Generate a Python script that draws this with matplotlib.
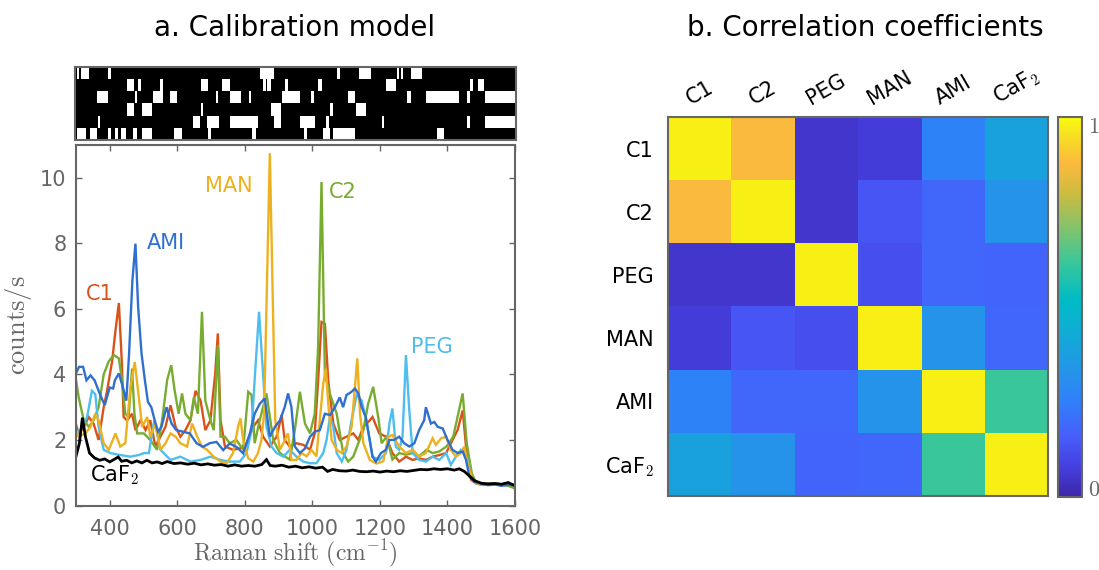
import numpy as np
import matplotlib
matplotlib.use("Agg")
import matplotlib.pyplot as plt
from matplotlib.colors import LinearSegmentedColormap

plt.rcParams['font.family'] = ['DejaVu Sans']
plt.rcParams['mathtext.fontset'] = 'cm'

# ---------------- data ----------------
c1 = [(299, 2.5), (308, 2.2), (323, 2.4), (338, 2.7), (352, 2.5), (367, 2.0), (382, 3.0), (392, 3.5),
      (407, 4.4), (417, 5.35), (427, 6.18), (436, 4.3), (441, 2.7), (451, 2.6), (466, 2.8), (476, 2.3),
      (491, 2.6), (506, 2.3), (520, 2.6), (535, 1.8), (550, 2.1), (565, 2.4), (580, 3.06), (595, 2.4),
      (609, 2.1), (624, 2.3), (639, 2.6), (654, 3.5), (669, 3.2), (683, 2.3), (698, 2.6), (712, 4.0),
      (720, 5.25), (728, 2.6), (741, 1.8), (765, 1.7), (785, 1.74), (805, 1.9), (825, 2.4), (839, 2.6),
      (854, 2.1), (874, 1.8), (894, 2.1), (909, 2.76), (918, 2.0), (933, 1.8), (953, 1.9), (973, 1.85),
      (993, 1.7), (1007, 2.2), (1017, 3.8), (1027, 5.6), (1037, 5.55), (1047, 3.8), (1062, 2.5),
      (1081, 2.0), (1101, 2.1), (1121, 2.2), (1136, 2.0), (1151, 2.4), (1170, 2.6), (1178, 2.7),
      (1198, 2.2), (1218, 2.1), (1237, 1.6), (1257, 1.34), (1277, 1.49), (1297, 1.39), (1316, 1.44),
      (1336, 1.39), (1356, 1.49), (1376, 1.54), (1396, 1.6), (1415, 2.0), (1430, 2.3), (1445, 2.9),
      (1455, 1.8), (1470, 0.78), (1484, 0.68), (1500, 0.65), (1520, 0.66), (1540, 0.64), (1560, 0.65),
      (1580, 0.66), (1600, 0.62)]

c2 = [(300, 3.83), (308, 3.3), (323, 2.6), (338, 2.4), (352, 2.6), (367, 3.0), (382, 4.0), (397, 4.4),
      (412, 4.59), (427, 4.49), (436, 3.83), (446, 2.8), (456, 2.7), (466, 4.18), (473, 2.8), (481, 2.2),
      (501, 2.2), (520, 2.0), (540, 1.7), (555, 2.6), (570, 3.83), (582, 4.28), (592, 3.52), (604, 2.8),
      (614, 3.42), (624, 2.8), (639, 2.6), (649, 3.3), (661, 2.8), (673, 5.91), (683, 3.2), (698, 2.6),
      (708, 2.3), (720, 4.9), (728, 2.1), (741, 2.1), (755, 1.9), (775, 2.0), (795, 1.7), (810, 3.47),
      (820, 3.37), (829, 1.9), (844, 2.6), (864, 3.42), (884, 2.0), (904, 1.6), (918, 1.5), (933, 1.4),
      (948, 2.3), (963, 3.47), (978, 2.5), (993, 2.2), (1007, 2.8), (1017, 4.84), (1027, 9.87),
      (1037, 4.0), (1052, 3.4), (1072, 2.8), (1091, 1.6), (1106, 1.34), (1121, 1.49), (1136, 1.9),
      (1151, 2.3), (1165, 3.1), (1180, 3.62), (1195, 2.7), (1205, 1.9), (1220, 2.1), (1237, 1.4),
      (1257, 1.6), (1277, 1.55), (1297, 1.6), (1316, 1.5), (1338, 1.7), (1356, 1.6), (1376, 1.65),
      (1397, 1.8), (1417, 2.1), (1432, 2.8), (1445, 3.42), (1457, 1.9), (1472, 0.98), (1486, 0.67),
      (1500, 0.64), (1520, 0.66), (1540, 0.68), (1560, 0.64), (1580, 0.6), (1600, 0.52)]

peg = [(300, 2.2), (313, 2.3), (333, 2.7), (347, 3.5), (357, 3.4), (367, 2.4), (382, 1.7), (402, 1.6),
       (431, 1.54), (461, 1.49), (486, 1.54), (501, 1.6), (516, 1.6), (525, 2.2), (532, 2.6), (550, 1.7),
       (580, 1.39), (609, 1.49), (639, 1.34), (669, 1.39), (698, 1.49), (728, 1.39), (755, 1.34),
       (785, 1.34), (805, 1.6), (820, 2.3), (829, 3.83), (842, 5.91), (852, 4.33), (864, 2.4), (879, 1.8),
       (894, 1.6), (914, 1.49), (933, 1.7), (953, 1.49), (973, 1.34), (993, 1.29), (1012, 1.29),
       (1032, 1.6), (1042, 2.0), (1052, 2.7), (1062, 2.4), (1072, 1.6), (1087, 1.34), (1101, 1.7),
       (1116, 2.6), (1131, 3.37), (1146, 3.2), (1160, 2.6), (1178, 1.49), (1198, 1.39), (1218, 1.6),
       (1228, 2.5), (1237, 2.96), (1247, 1.8), (1257, 1.7), (1267, 2.1), (1277, 4.59), (1287, 2.9),
       (1297, 1.6), (1316, 1.39), (1336, 1.34), (1356, 1.49), (1376, 1.39), (1396, 1.6), (1410, 1.24),
       (1425, 1.49), (1440, 1.7), (1450, 1.6), (1460, 1.39), (1470, 0.88), (1484, 0.68), (1500, 0.64),
       (1520, 0.65), (1540, 0.66), (1560, 0.63), (1580, 0.64), (1600, 0.62)]

man = [(300, 2.3), (308, 2.1), (328, 2.2), (343, 2.4), (357, 2.8), (367, 2.6), (382, 1.9), (397, 1.7),
       (417, 2.2), (431, 1.8), (446, 1.9), (461, 3.6), (474, 4.38), (486, 3.3), (496, 2.4), (511, 2.7),
       (520, 2.1), (535, 2.5), (550, 1.7), (565, 1.9), (580, 2.2), (595, 2.1), (609, 1.9), (629, 1.8),
       (644, 2.5), (659, 2.1), (673, 1.8), (688, 1.7), (708, 1.49), (728, 1.34), (746, 1.29), (765, 1.6),
       (780, 2.4), (787, 2.66), (795, 2.0), (810, 1.44), (825, 1.34), (839, 1.6), (849, 2.0), (857, 2.8),
       (874, 10.75), (890, 2.6), (904, 1.7), (914, 1.9), (928, 2.2), (938, 1.39), (953, 1.39),
       (968, 1.6), (983, 1.5), (997, 1.7), (1012, 1.5), (1022, 2.6), (1032, 3.72), (1040, 4.18),
       (1047, 3.1), (1057, 2.0), (1072, 1.7), (1087, 1.6), (1101, 1.8), (1116, 2.4), (1126, 3.62),
       (1133, 4.49), (1141, 2.8), (1151, 1.9), (1170, 1.39), (1190, 1.28), (1210, 1.35), (1225, 2.1),
       (1237, 2.15), (1257, 1.8), (1277, 1.6), (1297, 1.7), (1316, 1.49), (1336, 1.6), (1356, 2.05),
       (1366, 1.85), (1381, 2.05), (1396, 2.1), (1410, 1.7), (1425, 1.49), (1440, 1.6), (1450, 1.8),
       (1460, 1.29), (1474, 0.78), (1490, 0.66), (1510, 0.64), (1530, 0.66), (1550, 0.65), (1570, 0.64),
       (1600, 0.62)]

ami = [(300, 4.03), (309, 4.23), (321, 4.23), (331, 3.82), (343, 3.97), (355, 3.82), (370, 3.42),
       (385, 3.06), (400, 3.6), (410, 3.57), (415, 3.82), (427, 4.03), (439, 3.6), (449, 3.2), (457, 4.6),
       (467, 6.87), (476, 7.99), (484, 6.06), (494, 4.64), (504, 3.82), (513, 3.16), (523, 3.0),
       (533, 2.6), (543, 2.25), (553, 2.4), (568, 3.0), (583, 2.5), (597, 2.3), (617, 2.25), (637, 2.2),
       (657, 1.9), (676, 1.79), (696, 1.9), (716, 1.94), (736, 1.69), (755, 1.89), (775, 1.79),
       (795, 1.59), (815, 2.2), (829, 2.8), (844, 3.1), (859, 3.27), (874, 2.1), (889, 2.4), (904, 2.6),
       (918, 3.0), (928, 3.42), (938, 3.0), (948, 1.8), (963, 1.6), (978, 1.74), (993, 2.1), (1007, 2.25),
       (1022, 2.3), (1037, 2.8), (1052, 2.76), (1067, 3.0), (1081, 3.3), (1091, 3.0), (1101, 3.37),
       (1116, 3.47), (1126, 3.57), (1136, 3.42), (1146, 3.0), (1158, 2.7), (1168, 2.1), (1178, 1.49),
       (1188, 1.34), (1203, 1.6), (1218, 1.7), (1228, 2.0), (1242, 2.0), (1257, 2.1), (1272, 1.9),
       (1287, 1.8), (1302, 1.9), (1316, 2.3), (1331, 2.6), (1336, 3.0), (1351, 2.5), (1361, 2.55),
       (1371, 2.4), (1386, 2.35), (1400, 2.0), (1415, 1.7), (1430, 1.6), (1445, 1.65), (1455, 1.39),
       (1465, 0.88), (1479, 0.73), (1500, 0.66), (1520, 0.62), (1540, 0.64), (1560, 0.6), (1580, 0.63),
       (1600, 0.62)]

caf2 = [(300, 1.5), (310, 1.9), (319, 2.68), (328, 2.1), (340, 1.6), (355, 1.45), (370, 1.38), (385, 1.42),
        (400, 1.33), (415, 1.42), (425, 1.48), (435, 1.35), (450, 1.38), (465, 1.3), (480, 1.36),
        (495, 1.3), (510, 1.38), (525, 1.3), (540, 1.33), (555, 1.28), (570, 1.34), (590, 1.28),
        (610, 1.3), (630, 1.26), (650, 1.29), (670, 1.24), (690, 1.27), (710, 1.23), (730, 1.25),
        (750, 1.2), (770, 1.24), (790, 1.2), (810, 1.22), (830, 1.2), (850, 1.25), (864, 1.4), (875, 1.22),
        (890, 1.2), (910, 1.23), (930, 1.17), (950, 1.2), (970, 1.15), (990, 1.18), (1010, 1.14),
        (1030, 1.17), (1045, 1.04), (1060, 1.1), (1080, 1.06), (1100, 1.05), (1120, 1.08), (1140, 1.04),
        (1160, 1.03), (1180, 1.05), (1200, 1.02), (1220, 1.05), (1240, 1.03), (1260, 1.06), (1280, 1.04),
        (1300, 1.07), (1320, 1.1), (1340, 1.09), (1360, 1.12), (1380, 1.1), (1400, 1.12), (1420, 1.08),
        (1435, 1.12), (1450, 1.04), (1465, 0.9), (1480, 0.76), (1500, 0.68), (1520, 0.66), (1540, 0.67),
        (1560, 0.65), (1580, 0.7), (1600, 0.6)]

# binary calibration design (white intervals, cm^-1), rows top to bottom
mask_row1 = [(306, 312), (318, 341), (397, 407), (844, 888), (1073, 1081), (1138, 1172),
             (1248, 1256), (1260, 1268), (1290, 1322)]
mask_row2 = [(453, 473), (486, 496), (552, 560), (671, 691), (734, 756), (854, 864), (867, 877),
             (919, 928), (1017, 1027), (1216, 1245), (1465, 1474), (1487, 1507)]
mask_row3 = [(365, 397), (476, 484), (530, 560), (581, 601), (715, 723), (758, 790), (812, 820),
             (911, 963), (996, 1006), (1106, 1125), (1280, 1290), (1335, 1432), (1455, 1463), (1509, 1597)]
mask_row4 = [(453, 473), (497, 528), (671, 677), (877, 908), (1052, 1060), (1128, 1158)]
mask_row5 = [(368, 375), (648, 668), (690, 724), (756, 840), (887, 908), (963, 1007), (1040, 1050),
             (1204, 1212), (1455, 1463), (1509, 1597)]
mask_row6 = [(306, 333), (343, 365), (397, 407), (417, 427), (437, 449), (471, 483), (497, 528),
             (592, 615), (692, 702), (823, 833), (975, 985), (1030, 1052), (1062, 1125), (1368, 1388)]

components = ['C1', 'C2', 'PEG', 'MAN', 'AMI', 'CaF₂']
corr = [[1.00, 0.89, 0.03, 0.05, 0.25, 0.38],
        [0.89, 1.00, 0.03, 0.12, 0.17, 0.32],
        [0.03, 0.03, 1.00, 0.10, 0.17, 0.16],
        [0.05, 0.12, 0.10, 1.00, 0.32, 0.17],
        [0.25, 0.17, 0.17, 0.32, 1.00, 0.62],
        [0.38, 0.32, 0.16, 0.17, 0.62, 1.00]]

# ---------------- styling ----------------
GRAY = '#666666'
col_c1 = '#D95319'
col_c2 = '#77AC30'
col_peg = '#4DBEEE'
col_man = '#EDB120'
col_ami = '#2F6FD0'

parula = LinearSegmentedColormap.from_list('parula', [
    (0.00, (0.243, 0.150, 0.660)),
    (0.08, (0.272, 0.250, 0.880)),
    (0.16, (0.280, 0.370, 0.985)),
    (0.25, (0.190, 0.500, 0.980)),
    (0.35, (0.130, 0.600, 0.900)),
    (0.45, (0.050, 0.690, 0.820)),
    (0.52, (0.000, 0.735, 0.775)),
    (0.62, (0.230, 0.780, 0.600)),
    (0.72, (0.550, 0.760, 0.400)),
    (0.80, (0.800, 0.735, 0.250)),
    (0.88, (0.990, 0.730, 0.240)),
    (0.94, (0.970, 0.850, 0.150)),
    (1.00, (0.976, 0.983, 0.054))])

fig = plt.figure(figsize=(10.99, 5.70), dpi=100)

# ---- binary pattern axes ----
axb = fig.add_axes([75/1099, 1-140/570, 441/1099, 73/570])
axb.set_facecolor('black')
for i, row in enumerate([mask_row1, mask_row2, mask_row3, mask_row4, mask_row5, mask_row6]):
    axb.broken_barh([(a, b - a) for a, b in row], (5 - i, 1), facecolors='white', edgecolor='none')
axb.set_xlim(300, 1600)
axb.set_ylim(0, 6)
axb.set_xticks([])
axb.set_yticks([])
for s in axb.spines.values():
    s.set_color(GRAY)
    s.set_linewidth(1.5)

# ---- spectra axes ----
ax = fig.add_axes([76/1099, 1-505.5/570, 439/1099, 360.5/570])
for data, col, lw in [(c1, col_c1, 1.7), (c2, col_c2, 1.7), (peg, col_peg, 1.7),
                      (man, col_man, 1.7), (ami, col_ami, 1.7), (caf2, 'black', 2.0)]:
    xs, ys = zip(*data)
    ax.plot(xs, ys, color=col, lw=lw, solid_joinstyle='miter')
ax.set_xlim(300, 1600)
ax.set_ylim(0, 11)
ax.set_xticks([400, 600, 800, 1000, 1200, 1400, 1600])
ax.set_yticks([0, 2, 4, 6, 8, 10])
ax.tick_params(direction='in', top=True, right=True, length=4, width=1.0, color=GRAY,
               labelcolor=GRAY, labelsize=15)
ax.tick_params(axis='x', pad=10)
ax.tick_params(axis='y', pad=7)
for s in ax.spines.values():
    s.set_color(GRAY)
    s.set_linewidth(1.5)
ax.set_xlabel(r'$\mathrm{Raman\ shift\ (cm^{-1})}$', color=GRAY, fontsize=17, labelpad=-1)
ax.set_ylabel(r'$\mathrm{counts/s}$', color=GRAY, fontsize=19, labelpad=4)

fs_lab = 15
ax.text(370, 6.45, 'C1', color=col_c1, fontsize=fs_lab, ha='center', va='center')
ax.text(567, 8.0, 'AMI', color=col_ami, fontsize=fs_lab, ha='center', va='center')
ax.text(752, 9.76, 'MAN', color=col_man, fontsize=fs_lab, ha='center', va='center')
ax.text(1090, 9.56, 'C2', color=col_c2, fontsize=fs_lab, ha='center', va='center')
ax.text(1354, 4.83, 'PEG', color=col_peg, fontsize=fs_lab, ha='center', va='center')
ax.text(341, 0.93, r'CaF$_{\mathsf{2}}$', color='black', fontsize=fs_lab, ha='left', va='center')

fig.text(295/1099, 1-28/570, 'a. Calibration model', fontsize=20, ha='center', va='center')
fig.text(865/1099, 1-28/570, 'b. Correlation coefficients', fontsize=20, ha='center', va='center')

# ---- correlation heatmap ----
axh = fig.add_axes([668/1099, 1-496/570, 380/1099, 379/570])
vmin, vmax = -0.025, 1.022
im = axh.imshow(np.array(corr), cmap=parula, vmin=vmin, vmax=vmax, aspect='auto')
axh.xaxis.tick_top()
axh.set_xticks(range(len(components)))
axh.set_yticks(range(len(components)))
labels_tex = [r'CaF$_{\mathsf{2}}$' if c == 'CaF₂' else c for c in components]
axh.set_xticklabels(labels_tex, rotation=30, ha='center', va='bottom')
axh.set_yticklabels(labels_tex)
axh.tick_params(length=0, labelsize=15, pad=10)
axh.tick_params(axis='x', pad=6)
for s in axh.spines.values():
    s.set_color(GRAY)
    s.set_linewidth(1.5)

cax = fig.add_axes([1058/1099, 1-497/570, 24/1099, 380/570])
cb = fig.colorbar(im, cax=cax)
cb.set_ticks([0, 1])
cb.set_ticklabels([r'$0$', r'$1$'])
cb.ax.tick_params(length=0, labelsize=16, labelcolor=GRAY, pad=4)
cb.outline.set_edgecolor(GRAY)
cb.outline.set_linewidth(1.5)

fig.savefig('out.png', dpi=100)
